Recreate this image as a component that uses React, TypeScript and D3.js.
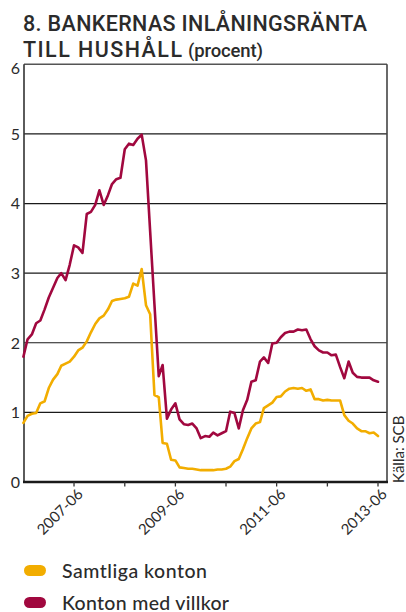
import React from "react";
import * as d3 from "d3";

const startMonth = "2006-06";
const endMonth = "2013-06";

const samtliga = [
  0.85, 0.95, 0.98, 0.99, 1.13, 1.16, 1.35, 1.47, 1.55, 1.67,
  1.7, 1.73, 1.8, 1.89, 1.93, 2.02, 2.15, 2.27, 2.35, 2.39,
  2.48, 2.6, 2.62, 2.63, 2.64, 2.66, 2.85, 2.82, 3.06, 2.54,
  2.41, 1.25, 1.22, 0.56, 0.55, 0.32, 0.31, 0.21, 0.2, 0.19,
  0.19, 0.18, 0.17, 0.17, 0.17, 0.17, 0.18, 0.18, 0.19, 0.22,
  0.3, 0.33, 0.47, 0.63, 0.77, 0.84, 0.86, 1.06, 1.1, 1.14,
  1.22, 1.23, 1.3, 1.34, 1.35, 1.34, 1.35, 1.31, 1.33, 1.19,
  1.19, 1.17, 1.18, 1.17, 1.17, 1.17, 0.96, 0.88, 0.84, 0.77,
  0.73, 0.73, 0.7, 0.71, 0.66,
];

const villkor = [
  1.8, 2.05, 2.12, 2.28, 2.32, 2.48, 2.65, 2.79, 2.93, 3.0,
  2.9, 3.12, 3.4, 3.37, 3.29, 3.85, 3.88, 3.98, 4.19, 3.98,
  4.12, 4.28, 4.35, 4.37, 4.78, 4.86, 4.84, 4.93, 4.99, 4.62,
  3.6, 2.55, 1.52, 1.68, 0.91, 1.04, 1.13, 0.9, 0.83, 0.82,
  0.84, 0.77, 0.63, 0.66, 0.65, 0.71, 0.67, 0.7, 0.73, 1.01,
  0.99, 0.77, 1.03, 1.18, 1.44, 1.46, 1.73, 1.79, 1.71, 1.99,
  2.0, 2.08, 2.14, 2.16, 2.16, 2.19, 2.18, 2.19, 2.05, 1.95,
  1.89, 1.86, 1.86, 1.82, 1.83, 1.65, 1.49, 1.73, 1.57, 1.51,
  1.5, 1.5, 1.5, 1.46, 1.44,
];

const yTicks = [0, 1, 2, 3, 4, 5, 6];
const xTicks = ["2007-06", "2008-06", "2009-06", "2010-06", "2011-06", "2012-06", "2013-06"];
const xTickLabels = ["2007-06", "2009-06", "2011-06", "2013-06"];

const seriesNames = ["Samtliga konton", "Konton med villkor"];
const seriesColors = ["#F2AD00", "#A1083F"];
const legendWidths = [145, 167];

const titleLine1 = "8. BANKERNAS INLÅNINGSRÄNTA";
const titleLine2a = "TILL HUSHÅLL";
const titleLine2b = "(procent)";
const source = "Källa: SCB";

const parse = d3.timeParse("%Y-%m");

export default function App() {
  const W = 406;
  const H = 612;
  const left = 24;
  const right = 387;
  const top = 64.3;
  const bottom = 482;

  const months = d3.timeMonth.range(parse(startMonth)!, d3.timeMonth.offset(parse(endMonth)!, 1));
  const x = d3.scaleTime().domain([parse(startMonth)!, parse(endMonth)!]).range([23.4, 378]);
  const y = d3.scaleLinear().domain([0, 6]).range([bottom, top]);

  const line = d3
    .line<number>()
    .x((_, i) => x(months[i]))
    .y((d) => y(d));

  const font = "Lato, 'DejaVu Sans', sans-serif";
  const titleFont = "Roboto, 'DejaVu Sans', sans-serif";
  const textColor = "#2b2b2b";

  return (
    <svg width={W} height={H} style={{ position: "absolute", left: 0, top: 0 }}>
      <rect width={W} height={H} fill="#fff" />
      {/* Title */}
      <text x={23} y={31} fontFamily={titleFont} fontWeight={500} fontSize={21.5} fill={textColor} textLength={344} lengthAdjust="spacing">
        {titleLine1}
      </text>
      <text x={23} y={57} fontFamily={titleFont} fontWeight={500} fontSize={21.5} fill={textColor} textLength={159} lengthAdjust="spacing">
        {titleLine2a}
      </text>
      <text x={188} y={57} fontFamily={titleFont} fontWeight={500} fontSize={18.5} fill={textColor} textLength={75} lengthAdjust="spacing">
        {titleLine2b}
      </text>

      {/* Grid lines */}
      {yTicks.filter((t) => t > 0 && t < 6).map((t) => (
        <line key={t} x1={left} x2={right} y1={y(t)} y2={y(t)} stroke="#1a1a1a" strokeWidth={1.2} />
      ))}
      {/* Top border */}
      <line x1={left} x2={right} y1={y(6)} y2={y(6)} stroke="#555" strokeWidth={1.6} />
      {/* Right border */}
      <line x1={right} x2={right} y1={y(6)} y2={bottom} stroke="#444" strokeWidth={1.6} />
      {/* Left axis */}
      <line x1={left} x2={left} y1={y(6)} y2={bottom + 1} stroke="#333" strokeWidth={1.6} />

      {/* Y labels */}
      {yTicks.map((t) => (
        <text
          key={t}
          x={20}
          y={y(t) + (t === 6 ? 4 : 0)}
          dy="0.36em"
          textAnchor="end"
          fontFamily={font}
          fontSize={16}
          fill={textColor}
        >
          {t}
        </text>
      ))}

      {/* Lines */}
      <path d={line(samtliga) || ""} fill="none" stroke={seriesColors[0]} strokeWidth={2.6} strokeLinejoin="round" strokeLinecap="round" />
      <path d={line(villkor) || ""} fill="none" stroke={seriesColors[1]} strokeWidth={2.6} strokeLinejoin="round" strokeLinecap="round" />

      {/* Bottom axis */}
      <line x1={left - 1} x2={right + 1} y1={bottom} y2={bottom} stroke="#1a1a1a" strokeWidth={2.6} />
      {xTicks.map((t) => (
        <line key={t} x1={x(parse(t)!)} x2={x(parse(t)!)} y1={bottom} y2={bottom + 4.5} stroke="#333" strokeWidth={1.3} />
      ))}
      {xTickLabels.map((t) => {
        const tx = x(parse(t)!);
        return (
          <text
            key={t}
            transform={`translate(${tx + 10},${bottom + 13}) rotate(-45)`}
            textAnchor="end"
            fontFamily={font}
            fontSize={15}
            fill={textColor}
          >
            {t}
          </text>
        );
      })}

      {/* Source */}
      <text transform={`translate(404,${bottom + 1}) rotate(-90)`} fontFamily={font} fontSize={15} fill={textColor}>
        {source}
      </text>

      {/* Legend */}
      {seriesNames.map((name, i) => (
        <g key={name} transform={`translate(24,${565 + i * 32})`}>
          <rect x={0} y={0} width={22} height={11} rx={5.5} fill={seriesColors[i]} />
          <text x={38} y={12.5} fontFamily={font} fontWeight={500} fontSize={19.5} fill={textColor} textLength={legendWidths[i]} lengthAdjust="spacing">
            {name}
          </text>
        </g>
      ))}
    </svg>
  );
}
